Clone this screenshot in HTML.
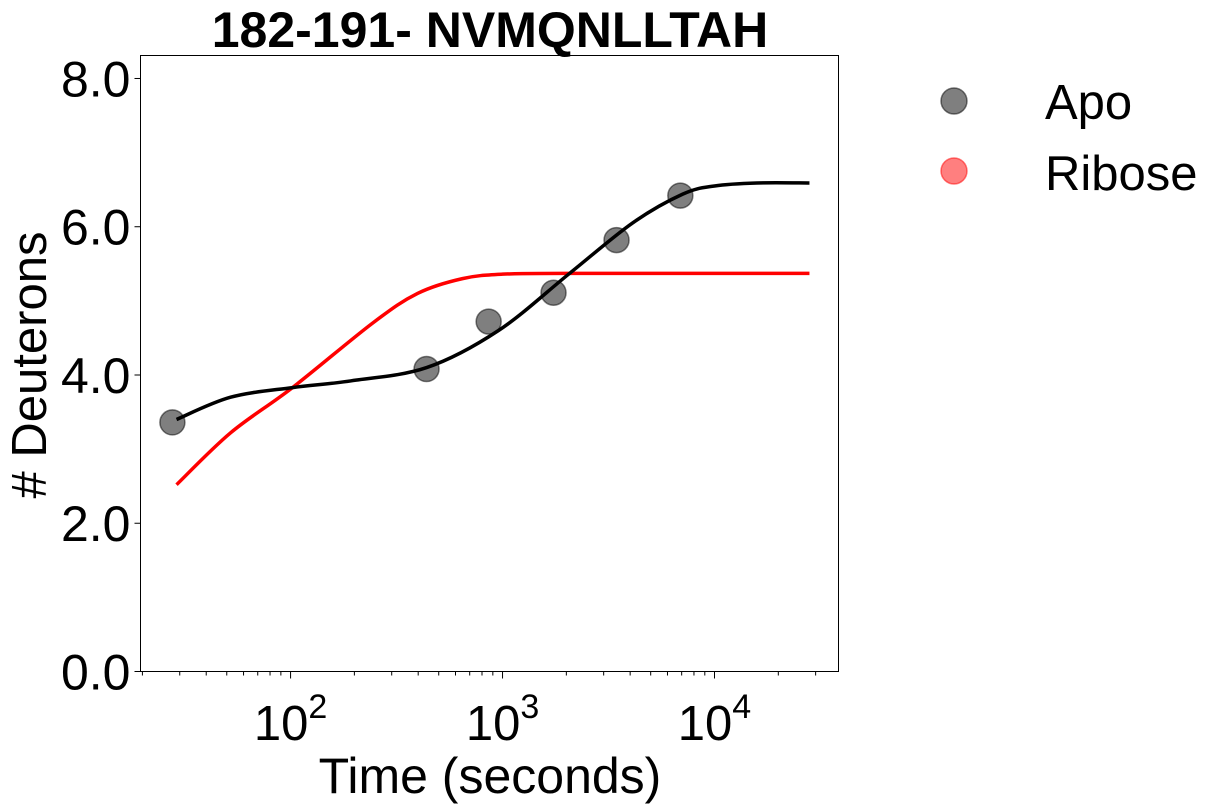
<!DOCTYPE html>
<html><head><meta charset="utf-8"><style>
html,body{margin:0;padding:0;background:#fff;}
svg{display:block;font-family:"Liberation Sans",Arial,sans-serif;}
</style></head><body>
<svg id="chart" width="1229" height="810" viewBox="0 0 1229 810">
<text x="490" y="47" font-size="50" font-weight="bold" text-anchor="middle">182-191- NVMQNLLTAH</text>
<g id="axes"></g>
<g id="series"></g>
<rect x="140.5" y="55.5" width="698" height="616" fill="none" stroke="#000" stroke-width="1"/>
<text x="490" y="793" font-size="50" text-anchor="middle">Time (seconds)</text>
<text transform="translate(46,365) rotate(-90)" font-size="49" text-anchor="middle"># Deuterons</text>
<g>
<g>
<circle cx="954" cy="101" r="13" fill="rgba(0,0,0,0.5)" stroke="rgba(0,0,0,0.5)" stroke-width="1.5"/>
<text x="1045" y="119" font-size="49">Apo</text></g>
<g>
<circle cx="954" cy="171" r="13" fill="rgba(255,0,0,0.5)" stroke="rgba(255,0,0,0.5)" stroke-width="1.5"/>
<text x="1045" y="190" font-size="49">Ribose</text></g>
</g>
</svg>
<script>
const apoTimes=[27.7,438,860,1740,3450,6900];
const apoValues=[3.36,4.08,4.72,5.11,5.82,6.42];
const apoFitLogT=[1.462,1.717,2.009,2.283,2.642,2.981,3.316,3.613,3.85,4.0,4.2,4.448];
const apoFitValues=[3.40,3.70,3.83,3.92,4.10,4.60,5.37,6.05,6.44,6.55,6.59,6.59];
const riboseFitLogT=[1.462,1.717,2.009,2.387,2.599,2.811,3.0,3.3,4.448];
const riboseFitValues=[2.52,3.22,3.83,4.70,5.10,5.30,5.36,5.37,5.37];
const yTicks=[0,2,4,6,8];
const yTickLabels=["0.0","2.0","4.0","6.0","8.0"];
const xMajor=[2,3,4];
const xLabels=["2","3","4"];

const L=140.5,R=838.5,T=55.5,B=671.5;
const LOGMIN=1.292,LOGMAX=4.585,YMIN=0,YMAX=8.31;
function xs(lg){return L+(lg-LOGMIN)/(LOGMAX-LOGMIN)*(R-L);}
function ys(v){return B-(v-YMIN)/(YMAX-YMIN)*(B-T);}
const NS="http://www.w3.org/2000/svg";
const axes=document.getElementById('axes'),ser=document.getElementById('series');
function mk(tag,attrs,parent){const e=document.createElementNS(NS,tag);for(const k in attrs)e.setAttribute(k,attrs[k]);parent.appendChild(e);return e;}
yTicks.forEach((v,i)=>{
  const y=ys(v);
  const t=mk('line',{x1:L-6,x2:L,y1:y,y2:y,stroke:'#000','stroke-width':1},axes);
  
  
  const tx=mk('text',{x:L-10,y:y+18,'font-size':50,'text-anchor':'end'},axes);
  tx.textContent=yTickLabels[i];
  
  
});
for(let d=1;d<=4;d++){for(let m=1;m<10;m++){
  const lg=d+Math.log10(m); if(lg<LOGMIN||lg>LOGMAX)continue;
  const x=xs(lg),maj=(m===1);
  const t=mk('line',{x1:x,x2:x,y1:B,y2:B+(maj?7:4),stroke:'#000','stroke-width':1},axes);
  
  
}}
xMajor.forEach((lg,i)=>{
  const x=xs(lg);
  const g=mk('text',{x:x,y:740,'font-size':49,'text-anchor':'middle'},axes);
  
  
  g.innerHTML='10<tspan dy="-22" font-size="34">'+xLabels[i]+'</tspan>';
});
function smooth(pts){let d='M'+pts[0][0]+','+pts[0][1];
  for(let i=0;i<pts.length-1;i++){const p0=pts[i-1]||pts[i],p1=pts[i],p2=pts[i+1],p3=pts[i+2]||p2;
    const c1=[p1[0]+(p2[0]-p0[0])/6,p1[1]+(p2[1]-p0[1])/6],c2=[p2[0]-(p3[0]-p1[0])/6,p2[1]-(p3[1]-p1[1])/6];
    d+=' C'+c1+' '+c2+' '+p2;}return d;}
const rp=mk('path',{d:smooth(riboseFitLogT.map((l,i)=>[xs(l),ys(riboseFitValues[i])])),fill:'none',stroke:'#ff0000','stroke-width':3.5},ser);


apoTimes.forEach((t,i)=>{
  const c=mk('circle',{cx:xs(Math.log10(t)),cy:ys(apoValues[i]),r:12.5,fill:'rgba(0,0,0,0.5)',stroke:'rgba(0,0,0,0.5)','stroke-width':1.5},ser);
  
  
});
const ap=mk('path',{d:smooth(apoFitLogT.map((l,i)=>[xs(l),ys(apoFitValues[i])])),fill:'none',stroke:'#000','stroke-width':3.5},ser);


</script>
</body></html>
